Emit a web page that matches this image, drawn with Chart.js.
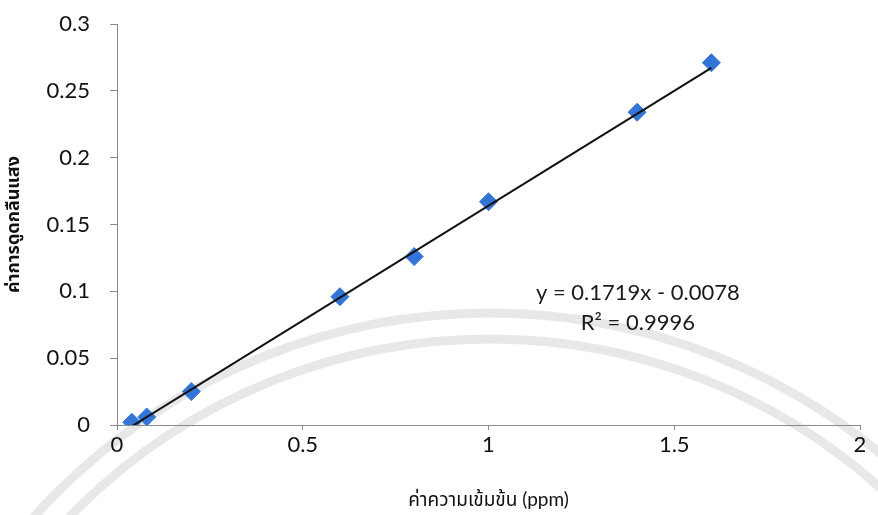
<!DOCTYPE html>
<html>
<head>
<meta charset="utf-8">
<script src="https://cdn.jsdelivr.net/npm/chart.js@4"></script>
<style>
  body { margin: 0; background: #fff; }
  #wrap { width: 878px; height: 515px; }
</style>
</head>
<body>
<div id="wrap"><canvas id="calChart" width="878" height="515"></canvas></div>
<script>
// Calibration data
const concentration = [0.04, 0.08, 0.2, 0.6, 0.8, 1.0, 1.4, 1.6];
const absorbance = [0.002, 0.006, 0.025, 0.096, 0.126, 0.167, 0.234, 0.271];

// Linear trendline as printed on the chart
const slope = 0.1719;
const intercept = -0.0078;
const rSquared = 0.9996;

const xLabel = 'ค่าความเข้มข้น (ppm)';
const yLabel = 'ค่าการดูดกลืนแสง';

const points = concentration.map((c, i) => ({ x: c, y: absorbance[i] }));
const xMin = Math.min(...concentration);
const xMax = Math.max(...concentration);
const trendPoints = [xMin, xMax].map(c => ({ x: c, y: slope * c + intercept }));

const fontFamily = 'Lato, "Noto Sans Thai", "Noto Sans", sans-serif';

// faint seal watermark from the scanned page
const watermark = {
  id: 'watermark',
  beforeDraw(chart) {
    const ctx = chart.ctx;
    ctx.save();
    ctx.strokeStyle = 'rgba(205,205,205,0.45)';
    ctx.lineWidth = 9;
    [612, 586].forEach(r => {
      ctx.beginPath();
      ctx.arc(490, 925, r, Math.PI, 2 * Math.PI);
      ctx.stroke();
    });
    ctx.restore();
  }
};

// equation + R² text
const trendLabel = {
  id: 'trendLabel',
  afterDatasetsDraw(chart) {
    const { ctx, scales: { x, y } } = chart;
    ctx.save();
    ctx.font = '22px ' + fontFamily;
    ctx.fillStyle = '#1a1a1a';
    ctx.textAlign = 'center';
    ctx.textBaseline = 'middle';
    const cx = x.getPixelForValue(1.402);
    const sign = intercept < 0 ? '-' : '+';
    ctx.fillText(`y = ${slope}x ${sign} ${Math.abs(intercept).toFixed(4)}`, cx, y.getPixelForValue(0.0988));
    ctx.fillText(`R² = ${rSquared}`, cx, y.getPixelForValue(0.0763));
    ctx.restore();
  }
};

new Chart(document.getElementById('calChart'), {
  type: 'scatter',
  data: {
    datasets: [
      {
        label: 'trend',
        type: 'line',
        data: trendPoints,
        borderColor: '#111',
        borderWidth: 2,
        pointRadius: 0,
        fill: false,
        order: 0,
      },
      {
        label: 'absorbance',
        data: points,
        pointStyle: 'rectRot',
        pointRadius: 9,
        backgroundColor: '#3275d6',
        borderColor: '#3275d6',
        borderWidth: 1,
        order: 1,
      },
    ],
  },
  options: {
    responsive: false,
    animation: false,
    layout: { padding: { top: 24, right: 18, left: 0, bottom: 0 } },
    plugins: {
      legend: { display: false },
      tooltip: { enabled: false },
    },
    scales: {
      x: {
        type: 'linear',
        min: 0,
        max: 2,
        ticks: {
          stepSize: 0.5,
          padding: 2,
          color: '#111',
          font: { family: fontFamily, size: 22 },
          callback: v => String(+v.toFixed(2)),
        },
        grid: { drawOnChartArea: false, color: '#8a8a8a', tickLength: 5 },
        border: { color: '#8a8a8a', width: 1 },
        title: {
          display: true,
          text: xLabel,
          color: '#111',
          font: { family: fontFamily, size: 19 },
          padding: { top: 0, bottom: 4 },
        },
        afterFit: s => { s.height = 90; s.paddingLeft = 0; s.paddingRight = 0; },
      },
      y: {
        min: 0,
        max: 0.3,
        ticks: {
          stepSize: 0.05,
          padding: 20,
          color: '#111',
          font: { family: fontFamily, size: 22 },
          callback: v => String(+v.toFixed(2)),
        },
        grid: { drawOnChartArea: false, color: '#8a8a8a', tickLength: 7 },
        border: { color: '#8a8a8a', width: 1 },
        title: {
          display: true,
          text: yLabel,
          color: '#111',
          font: { family: fontFamily, size: 18, weight: 'bold' },
          padding: { top: 2, bottom: 0 },
        },
        afterFit: s => { s.width = 117; s.paddingTop = 0; s.paddingBottom = 0; },
      },
    },
  },
  plugins: [watermark, trendLabel],
});
</script>
</body>
</html>
